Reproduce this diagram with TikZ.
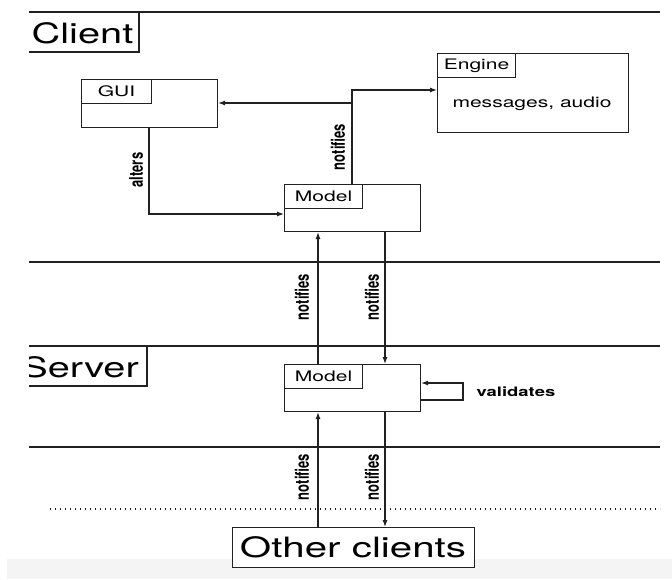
\documentclass[tikz,border=0pt]{standalone}
\usepackage{fontspec}
\setmainfont{TeX Gyre Heros}
\usetikzlibrary{arrows.meta}
\definecolor{ink}{rgb}{0.13,0.13,0.13}
\definecolor{band}{rgb}{0.955,0.955,0.955}
\newcommand\hstretch[2]{\scalebox{#1}[1]{#2}}
\newcommand\vstretch[2]{\scalebox{1}[#1]{#2}}
\begin{document}
\begin{tikzpicture}[x=1pt,y=-1pt,
  line/.style={draw=ink, line width=1.1pt},
  arr/.style={line, -{Latex[length=7pt,width=5pt]}},
  box/.style={draw=ink, line width=1.1pt, inner sep=0pt, anchor=north west},
  big/.style={font=\fontsize{28}{30}\selectfont, inner sep=0pt},
  mid/.style={font=\fontsize{14.5}{16}\selectfont, inner sep=0pt},
  lbl/.style={font=\fontsize{13}{14}\selectfont\bfseries, inner sep=0pt},
  vlbl/.style={lbl, rotate=90}]
% background and margins
\fill[white] (0,0) rectangle (672,579);
\useasboundingbox (0,0) rectangle (672,579);
\fill[band] (7,559) rectangle (672,579);

% separating lines
\coordinate (l1a) at (29,12);  \coordinate (l1b) at (660,12);
\coordinate (l2a) at (29,262); \coordinate (l2b) at (660,262);
\coordinate (l3a) at (29,346); \coordinate (l3b) at (660,346);
\coordinate (l4a) at (29,447); \coordinate (l4b) at (660,447);
\coordinate (d1) at (50,509);  \coordinate (d2) at (660,509);
\draw[line] (l1a) -- (l1b);
\draw[line] (l2a) -- (l2b);
\draw[line] (l3a) -- (l3b);
\draw[line] (l4a) -- (l4b);
\draw[draw=ink, line width=1.4pt, dash pattern=on 1.4pt off 3.6pt] (d1) -- (d2);

% section titles
\node[big] (client) at (82.5,33) {\hstretch{1.42}{Client}};
\coordinate (cb1) at (29,52); \coordinate (cb2) at (139,52); \coordinate (cb3) at (139,12);
\draw[line] (cb1) -- (cb2) -- (cb3);
\begin{scope}
\clip (29,0) rectangle (672,579);
\node[big] (server) at (80,367) {\hstretch{1.42}{Server}};
\end{scope}
\coordinate (sb1) at (29,386); \coordinate (sb2) at (147,386); \coordinate (sb3) at (147,346);
\draw[line] (sb1) -- (sb2) -- (sb3);

% boxes
\node[box, minimum width=136pt, minimum height=48pt] (gui) at (81,79) {};
\node[box, minimum width=70pt, minimum height=24pt, mid] (guil) at (81,79) {\hstretch{1.45}{GUI}};

\node[box, minimum width=191pt, minimum height=79pt] (eng) at (437,53) {};
\node[box, minimum width=78pt, minimum height=24pt, mid] (engl) at (437,53) {\hstretch{1.45}{Engine}};
\node[mid] (engt) at (532,104) {\hstretch{1.45}{messages, audio}};

\node[box, minimum width=136pt, minimum height=47pt] (cm) at (284,184) {};
\node[box, minimum width=78pt, minimum height=24pt, mid] (cml) at (284,184) {\hstretch{1.45}{Model}};

\node[box, minimum width=136pt, minimum height=47pt] (sm) at (284,364) {};
\node[box, minimum width=78pt, minimum height=24pt, mid] (sml) at (284,364) {\hstretch{1.45}{Model}};

\node[box, fill=white, minimum width=242pt, minimum height=40pt, big] (oc) at (231.5,527) {\hstretch{1.44}{Other clients}};

% helper coordinates
\coordinate (j) at (352,90);
\coordinate (k) at (352,103);
\coordinate (a) at (149,214);
\coordinate (p) at (318,0);
\coordinate (q) at (385,0);
\coordinate (v) at (463,400);
\coordinate (w) at (463,383);

% connectors
\draw[arr] (cm.north -| j) |- (eng.west |- j);
\draw[arr] (k) -- (gui.east |- k);
\draw[arr] (gui.south -| a) |- (cm.west |- a);
\draw[arr] (sm.north -| p) -- (cm.south -| p);
\draw[arr] (cm.south -| q) -- (sm.north -| q);
\draw[arr] (oc.north -| p) -- (sm.south -| p);
\draw[arr] (sm.south -| q) -- (oc.north -| q);
\draw[arr] (sm.east |- v) -- (v) -- (w) -- (sm.east |- w);

% labels
\node[vlbl] (n0) at (338,147) {\vstretch{1.45}{notifies}};
\node[vlbl] (al) at (136,170) {\vstretch{1.45}{alters}};
\node[vlbl] (n1) at (302,297) {\vstretch{1.45}{notifies}};
\node[vlbl] (n2) at (372,297) {\vstretch{1.45}{notifies}};
\node[vlbl] (n3) at (302,477) {\vstretch{1.45}{notifies}};
\node[vlbl] (n4) at (372,477) {\vstretch{1.45}{notifies}};
\node[lbl] (val) at (516,392) {\hstretch{1.42}{validates}};
\end{tikzpicture}
\end{document}
